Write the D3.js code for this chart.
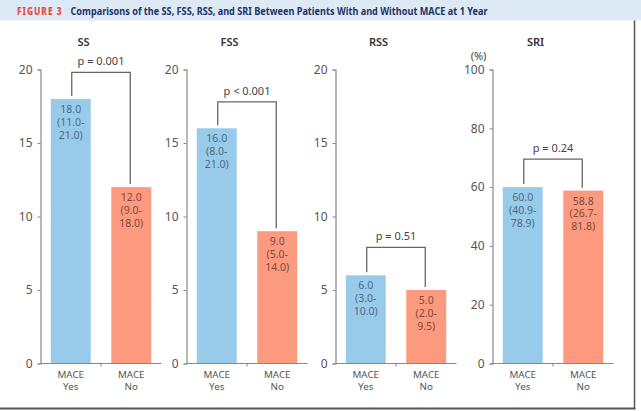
<!DOCTYPE html>
<html>
<head>
<meta charset="utf-8">
<script src="https://cdn.jsdelivr.net/npm/d3@7"></script>
<style>
  html, body { margin: 0; padding: 0; background: #fff; }
  svg { display: block; }
  text { font-family: "Noto Sans", "DejaVu Sans", sans-serif; }
</style>
</head>
<body>
<svg id="chart" width="641" height="411"></svg>
<script>
// ---- data ----
const metrics = ["SS", "FSS", "RSS", "SRI"];
const groups = ["Yes", "No"];
const medianYes = [18.0, 16.0, 6.0, 60.0];
const medianNo = [12.0, 9.0, 5.0, 58.8];
const iqrYes = ["11.0-21.0", "8.0-21.0", "3.0-10.0", "40.9-78.9"];
const iqrNo = ["9.0-18.0", "5.0-14.0", "2.0-9.5", "26.7-81.8"];
const pValues = ["p = 0.001", "p < 0.001", "p = 0.51", "p = 0.24"];
const bracketLevel = [19.8, 17.8, 7.9, 69.5];
const yMax = [20, 20, 20, 100];
const yTicks = [[0, 5, 10, 15, 20], [0, 5, 10, 15, 20], [0, 5, 10, 15, 20], [0, 20, 40, 60, 80, 100]];
const unitLabel = [null, null, null, "(%)"];
const titleFig = "FIGURE 3";
const titleText = "Comparisons of the SS, FSS, RSS, and SRI Between Patients With and Without MACE at 1 Year";

// ---- layout ----
const svg = d3.select("#chart");
const panelX = [40.5, 186.5, 335.5, 492.5];
const panelW = 121;
const yBottom = 363.5, yTop = 69.5;
const colors = { Yes: "#98cbea", No: "#fc9a7f" };
const textColors = { Yes: "#4c6a88", No: "#7d4a42" };

// header
svg.append("rect").attr("x", 0).attr("y", 0).attr("width", 641).attr("height", 20.5).attr("fill", "#dde9f5");
svg.append("text").attr("x", 17).attr("y", 14.5).attr("fill", "#e8473d")
  .attr("font-size", 10.5).attr("font-weight", 800).attr("letter-spacing", 1.2)
  .attr("textLength", 45.5).attr("lengthAdjust", "spacingAndGlyphs").text(titleFig);
svg.append("text").attr("x", 70.5).attr("y", 14.5).attr("fill", "#1f3466")
  .attr("font-size", 11).attr("font-weight", 700)
  .attr("textLength", 417).attr("lengthAdjust", "spacingAndGlyphs").text(titleText);

// borders
svg.append("line").attr("x1", 634.5).attr("x2", 634.5).attr("y1", 20.5).attr("y2", 409).attr("stroke", "#555").attr("stroke-width", 1.5);
svg.append("line").attr("x1", 0).attr("x2", 635.5).attr("y1", 408.5).attr("y2", 408.5).attr("stroke", "#555").attr("stroke-width", 2);

metrics.forEach((m, i) => {
  const x0 = panelX[i];
  const g = svg.append("g");
  const y = d3.scaleLinear().domain([0, yMax[i]]).range([yBottom, yTop]);
  const x = d3.scaleBand().domain(groups).range([x0, x0 + panelW]).paddingInner(0.34).paddingOuter(0.17);

  // title
  g.append("text").attr("x", x0 + 43).attr("y", 46).attr("text-anchor", "middle")
    .attr("font-size", 11).attr("font-weight", 600).attr("fill", "#333").text(m);

  if (unitLabel[i]) {
    g.append("text").attr("x", x0 - 14).attr("y", 59.5).attr("text-anchor", "middle")
      .attr("font-size", 11).attr("fill", "#444").text(unitLabel[i]);
  }

  // bars
  const vals = [medianYes[i], medianNo[i]];
  const iqrs = [iqrYes[i], iqrNo[i]];
  groups.forEach((gr, j) => {
    g.append("rect").attr("x", x(gr)).attr("width", x.bandwidth())
      .attr("y", y(vals[j])).attr("height", y(0) - y(vals[j])).attr("fill", colors[gr]);
    const parts = iqrs[j].split("-");
    const lines = [vals[j].toFixed(1), "(" + parts[0] + "-", parts[1] + ")"];
    const t = g.append("text").attr("text-anchor", "middle").attr("font-size", 10.5).attr("fill", textColors[gr]);
    lines.forEach((ln, k) => {
      t.append("tspan").attr("x", x(gr) + x.bandwidth() / 2).attr("y", y(vals[j]) + 14 + k * 12.8).text(ln);
    });
  });

  // y axis
  const ya = g.append("g").attr("transform", `translate(${x0},0)`)
    .call(d3.axisLeft(y).tickValues(yTicks[i]).tickSize(3).tickPadding(5).tickFormat(d3.format("d")));
  ya.select(".domain").attr("stroke", "#888").attr("stroke-width", 1.2);
  ya.selectAll(".tick line").attr("stroke", "#888");
  ya.selectAll(".tick text").attr("font-size", 12).attr("fill", "#555").attr("font-family", "Noto Sans, sans-serif");

  // x axis
  const xa = g.append("g").attr("transform", `translate(0,${yBottom})`);
  xa.append("line").attr("x1", x0).attr("x2", x0 + panelW).attr("stroke", "#888").attr("stroke-width", 1.2);
  xa.append("line").attr("x1", x0 + panelW / 2).attr("x2", x0 + panelW / 2).attr("y1", 0).attr("y2", 3).attr("stroke", "#888");
  groups.forEach(gr => {
    const cx = x(gr) + x.bandwidth() / 2;
    const t = xa.append("text").attr("text-anchor", "middle").attr("font-size", 9.8).attr("fill", "#555");
    t.append("tspan").attr("x", cx).attr("y", 14.8).text("MACE");
    t.append("tspan").attr("x", cx).attr("y", 26.8).text(gr);
  });

  // p bracket
  const bx1 = x("Yes") + x.bandwidth() / 2 + 1;
  const bx2 = x("No") + x.bandwidth() / 2 - 1;
  const by = y(bracketLevel[i]);
  const path = d3.path();
  path.moveTo(bx1, y(vals[0]) - 3);
  path.lineTo(bx1, by);
  path.lineTo(bx2, by);
  path.lineTo(bx2, y(vals[1]) - 3);
  g.append("path").attr("d", path.toString()).attr("fill", "none").attr("stroke", "#666").attr("stroke-width", 1.3);
  g.append("text").attr("x", (bx1 + bx2) / 2).attr("y", by - 7).attr("text-anchor", "middle")
    .attr("font-size", 11).attr("fill", "#444").text(pValues[i]);
});
</script>
</body>
</html>
